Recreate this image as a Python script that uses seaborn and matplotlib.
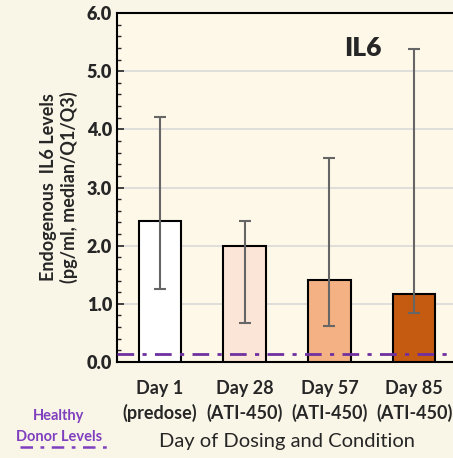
import numpy as np
import matplotlib
matplotlib.use("Agg")
import matplotlib.pyplot as plt
from matplotlib.ticker import MultipleLocator
import seaborn as sns

# data (median with Q1/Q3)
days = ["Day 1\n(predose)", "Day 28\n(ATI-450)", "Day 57\n(ATI-450)", "Day 85\n(ATI-450)"]
medians = [2.42, 2.00, 1.41, 1.17]
q1 = [1.26, 0.67, 0.62, 0.84]
q3 = [4.22, 2.42, 3.51, 5.38]
healthy_donor = 0.14
bar_colors = ["#FFFFFF", "#FBE5D6", "#F4B183", "#C55A11"]
yticks = [0.0, 1.0, 2.0, 3.0, 4.0, 5.0, 6.0]

sns.set_style("ticks")
plt.rcParams['font.family'] = ['Lato', 'DejaVu Sans']

fig = plt.figure(figsize=(4.53, 4.58), dpi=100)
fig.patch.set_facecolor("#F9F5E7")
ax = fig.add_axes([0.258, 0.2096, 0.75, 0.762])
ax.set_facecolor("#FEF8E8")

sns.barplot(x=days, y=medians, hue=days, palette=bar_colors, width=0.5, saturation=1,
            edgecolor="black", linewidth=1.5, legend=False, ax=ax, zorder=3)

yerr = [np.array(medians) - np.array(q1), np.array(q3) - np.array(medians)]
ax.errorbar(range(len(days)), medians, yerr=yerr, fmt="none", ecolor="#666666",
            elinewidth=1.5, capsize=4, capthick=1.5, zorder=4)

ax.axhline(healthy_donor, color="#7030A0", linestyle=(0, (6, 3, 1.5, 3)),
           linewidth=2, zorder=5)

ax.set_yticks(yticks)
ax.set_yticklabels([f"{v:.1f}" for v in yticks], fontsize=13, fontweight="heavy")
ax.yaxis.set_minor_locator(MultipleLocator(0.2))
ax.set_ylim(0, 6)
ax.set_xlim(-0.505, 3.5)
ax.tick_params(axis="y", which="major", direction="in", length=5, width=1.2)
ax.tick_params(axis="y", which="minor", direction="in", length=3, width=1.0)
ax.tick_params(axis="x", length=0, pad=13, labelsize=13)
for lbl in ax.get_xticklabels():
    lbl.set_fontweight("bold")
    lbl.set_linespacing(1.45)
ax.grid(axis="y", color="#D9D9D9", linewidth=1.2, zorder=0)
ax.set_axisbelow(True)

for s in ["left", "bottom", "top"]:
    ax.spines[s].set_color("black")
    ax.spines[s].set_linewidth(1.5)
ax.spines["right"].set_visible(False)

ax.set_ylabel("Endogenous  IL6 Levels\n(pg/ml, median/Q1/Q3)", fontsize=13,
              fontweight="bold", labelpad=6)
ax.set_xlabel("Day of Dosing and Condition", fontsize=14.5, labelpad=8)

ax.text(2.4, 5.4, "IL6", fontsize=19, fontweight="heavy", ha="center", va="center")

fig.text(0.13, 0.068, "Healthy\nDonor Levels", color="#7F3FBF", fontsize=10.5,
         fontweight="bold", ha="center", va="center", linespacing=1.65)
fig.add_artist(plt.Line2D([0.045, 0.24], [0.024, 0.024], color="#7F3FBF",
                          linestyle=(0, (5, 3, 1.5, 3)), linewidth=1.8))

plt.savefig("out.png", dpi=100, facecolor=fig.get_facecolor())
